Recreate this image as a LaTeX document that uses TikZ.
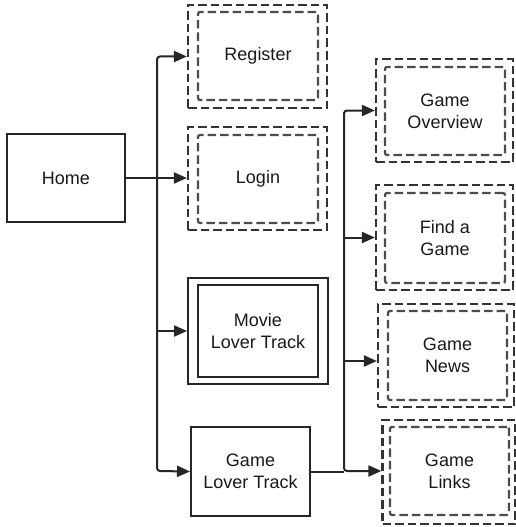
\documentclass[tikz,border=0pt]{standalone}
\usepackage{fontspec}
\setmainfont{Liberation Sans}
\usetikzlibrary{arrows.meta}
\begin{document}
\begin{tikzpicture}[x=1pt,y=-1pt,
  lbl/.style={font=\fontsize{18}{22}\selectfont, align=center, text=black!90},
  solidbox/.style={draw=black!85, line width=2pt, lbl, inner sep=0pt},
  outerdash/.style={draw=black!80, line width=2.2pt, dash pattern=on 8.5pt off 4pt, inner sep=0pt},
  innerdash/.style={draw=black!70, line width=2.2pt, dash pattern=on 8.5pt off 4pt, rounded corners=2pt, lbl, inner sep=0pt},
  conn/.style={draw=black!85, line width=2pt},
  arr/.style={conn, -{Triangle[length=13pt,width=11pt]}},
  barr/.style={conn, {Triangle[length=13pt,width=11pt]}-{Triangle[length=13pt,width=11pt]}, rounded corners=3pt}
]
\useasboundingbox (0,0) rectangle (515,527);
\fill[white] (0,0) rectangle (515,527);

% Home
\node[solidbox, minimum width=118pt, minimum height=88pt] (home) at (66,178) {Home};

% Register
\node[outerdash, minimum width=139pt, minimum height=103pt] (reg) at (257.5,56.5) {};
\node[innerdash, minimum width=120pt, minimum height=88pt] (regi) at (258,56) {Register};

% Login
\node[outerdash, minimum width=139pt, minimum height=103pt] (login) at (257.5,178.5) {};
\node[innerdash, minimum width=120pt, minimum height=88pt] (logini) at (258,179) {Login};

% Movie Lover Track
\node[draw=black!85, line width=2pt, minimum width=140pt, minimum height=106pt, inner sep=0pt] (movie) at (258,331) {};
\node[solidbox, minimum width=120pt, minimum height=92pt] (moviei) at (258,331) {Movie\\Lover Track};

% Game Lover Track
\node[solidbox, minimum width=119pt, minimum height=89pt] (gl) at (250.5,471.5) {Game\\Lover Track};

% Right column
\node[outerdash, minimum width=137pt, minimum height=103pt] (ov) at (444.5,110.5) {};
\node[innerdash, minimum width=120pt, minimum height=88pt] (ovi) at (445,111) {Game\\Overview};

\node[outerdash, minimum width=137pt, minimum height=105pt] (find) at (444.5,237.5) {};
\node[innerdash, minimum width=120pt, minimum height=90pt] (findi) at (445,238) {Find a\\Game};

\node[outerdash, minimum width=136pt, minimum height=103pt] (news) at (446,355.5) {};
\node[innerdash, minimum width=119pt, minimum height=89pt] (newsi) at (447.5,355.5) {Game\\News};

\node[outerdash, minimum width=133pt, minimum height=104pt] (links) at (449,472) {};
\node[innerdash, minimum width=119pt, minimum height=88pt] (linksi) at (449.5,471) {Game\\Links};

% Connectors left
\coordinate (tb) at (157,471);
\draw[arr] (home.east) -- (home.east -| login.west);
\draw[barr] (reg.west) -| (tb) -- (gl.west);
\draw[arr] (movie.west -| tb) -- (movie.west);

% Connectors right
\coordinate (rb) at (344,471);
\coordinate (n1) at (344,361);
\draw[conn] (gl.east) -- (gl.east -| rb);
\draw[barr] (ov.west) -| (rb) -- (rb -| links.west);
\draw[arr] (find.west -| rb) -- (find.west);
\draw[arr] (n1) -- (n1 -| news.west);
\end{tikzpicture}
\end{document}
